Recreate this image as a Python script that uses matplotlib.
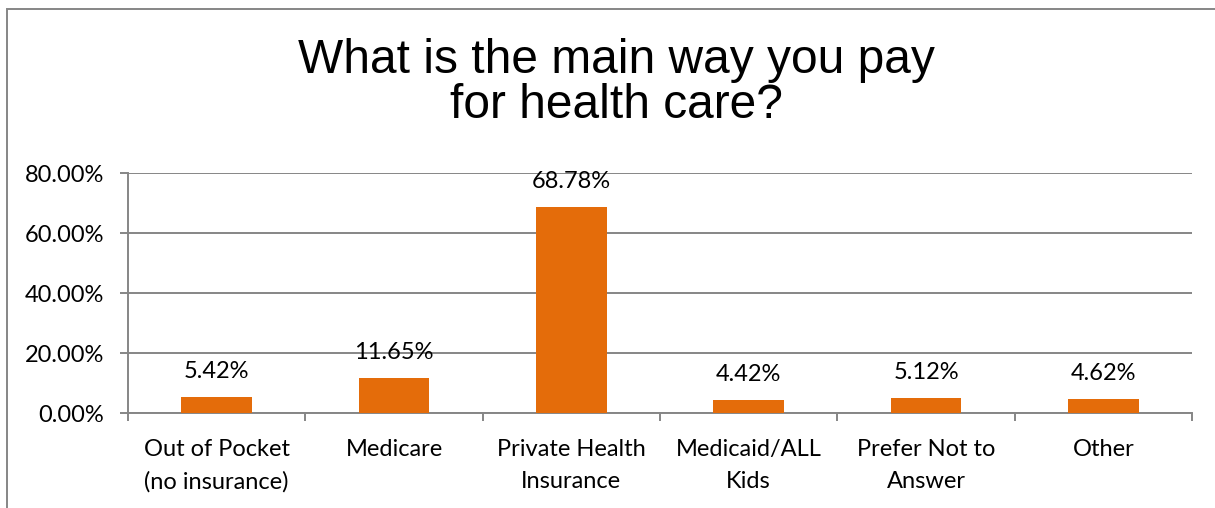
import matplotlib

matplotlib.use("Agg")
import matplotlib.pyplot as plt
from matplotlib.patches import Rectangle
from matplotlib.ticker import FuncFormatter, MultipleLocator

CATEGORIES = [
    "Out of Pocket\n(no insurance)",
    "Medicare",
    "Private Health\nInsurance",
    "Medicaid/ALL\nKids",
    "Prefer Not to\nAnswer",
    "Other",
]
SHARES = [5.42, 11.65, 68.78, 4.42, 5.12, 4.62]

TITLE_LINES = ["What is the main way you pay", "for health care?"]
BAR_COLOR = "#E46C0A"
GRID_COLOR = "#868686"
LABEL_FONT = "Lato"
LABEL_SIZE = 17

fig = plt.figure(figsize=(12.15, 5.08), dpi=100)
ax = fig.add_axes([128 / 1215, 1 - 413 / 508, (1192 - 128) / 1215, (413 - 173) / 508])

x = range(len(CATEGORIES))
bars = ax.bar(x, SHARES, width=0.4, color=BAR_COLOR, zorder=3)
for rect, v in zip(bars, SHARES):
    ax.annotate(f"{v:.2f}%", (rect.get_x() + rect.get_width() / 2, v),
                xytext=(0, 13.5), textcoords="offset points",
                ha="center", va="baseline", fontsize=LABEL_SIZE, family=LABEL_FONT)

ax.set_xlim(-0.5, len(CATEGORIES) - 0.5)
ax.set_ylim(0, 80)
ax.yaxis.set_major_locator(MultipleLocator(20))
ax.yaxis.set_major_formatter(FuncFormatter(lambda v, _: f"{v:.2f}%"))
ax.grid(axis="y", color=GRID_COLOR, lw=1.4, zorder=0)

# category ticks sit between bars, labels centred under each bar
ax.set_xticks([i - 0.5 for i in range(len(CATEGORIES) + 1)])
ax.set_xticklabels([])
ax.set_xticks(list(x), minor=True)
ax.set_xticklabels(CATEGORIES, minor=True, fontsize=LABEL_SIZE, family=LABEL_FONT,
                   linespacing=1.6)
ax.tick_params(axis="x", which="major", length=6, width=1.4, color=GRID_COLOR)
ax.tick_params(axis="x", which="minor", length=0, pad=19)
ax.tick_params(axis="y", length=6, width=1.4, color=GRID_COLOR,
               labelsize=LABEL_SIZE, pad=11)
for lab in ax.get_yticklabels():
    lab.set_family(LABEL_FONT)

for side in ("top", "right"):
    ax.spines[side].set_visible(False)
for side in ("left", "bottom"):
    ax.spines[side].set_color(GRID_COLOR)
    ax.spines[side].set_linewidth(1.4)

for line, base_px in zip(TITLE_LINES, (73, 118)):
    fig.text(616 / 1215, 1 - base_px / 508, line, ha="center", va="baseline",
             fontsize=34.5, family="Liberation Sans")

# chart frame, running off the right and bottom edges
fig.patches.append(Rectangle((7 / 1215, -0.1), 1.2, 1 - 9 / 508 + 0.1,
                             transform=fig.transFigure, fill=False,
                             edgecolor=GRID_COLOR, lw=1.4))

fig.savefig("out.png", dpi=100)
